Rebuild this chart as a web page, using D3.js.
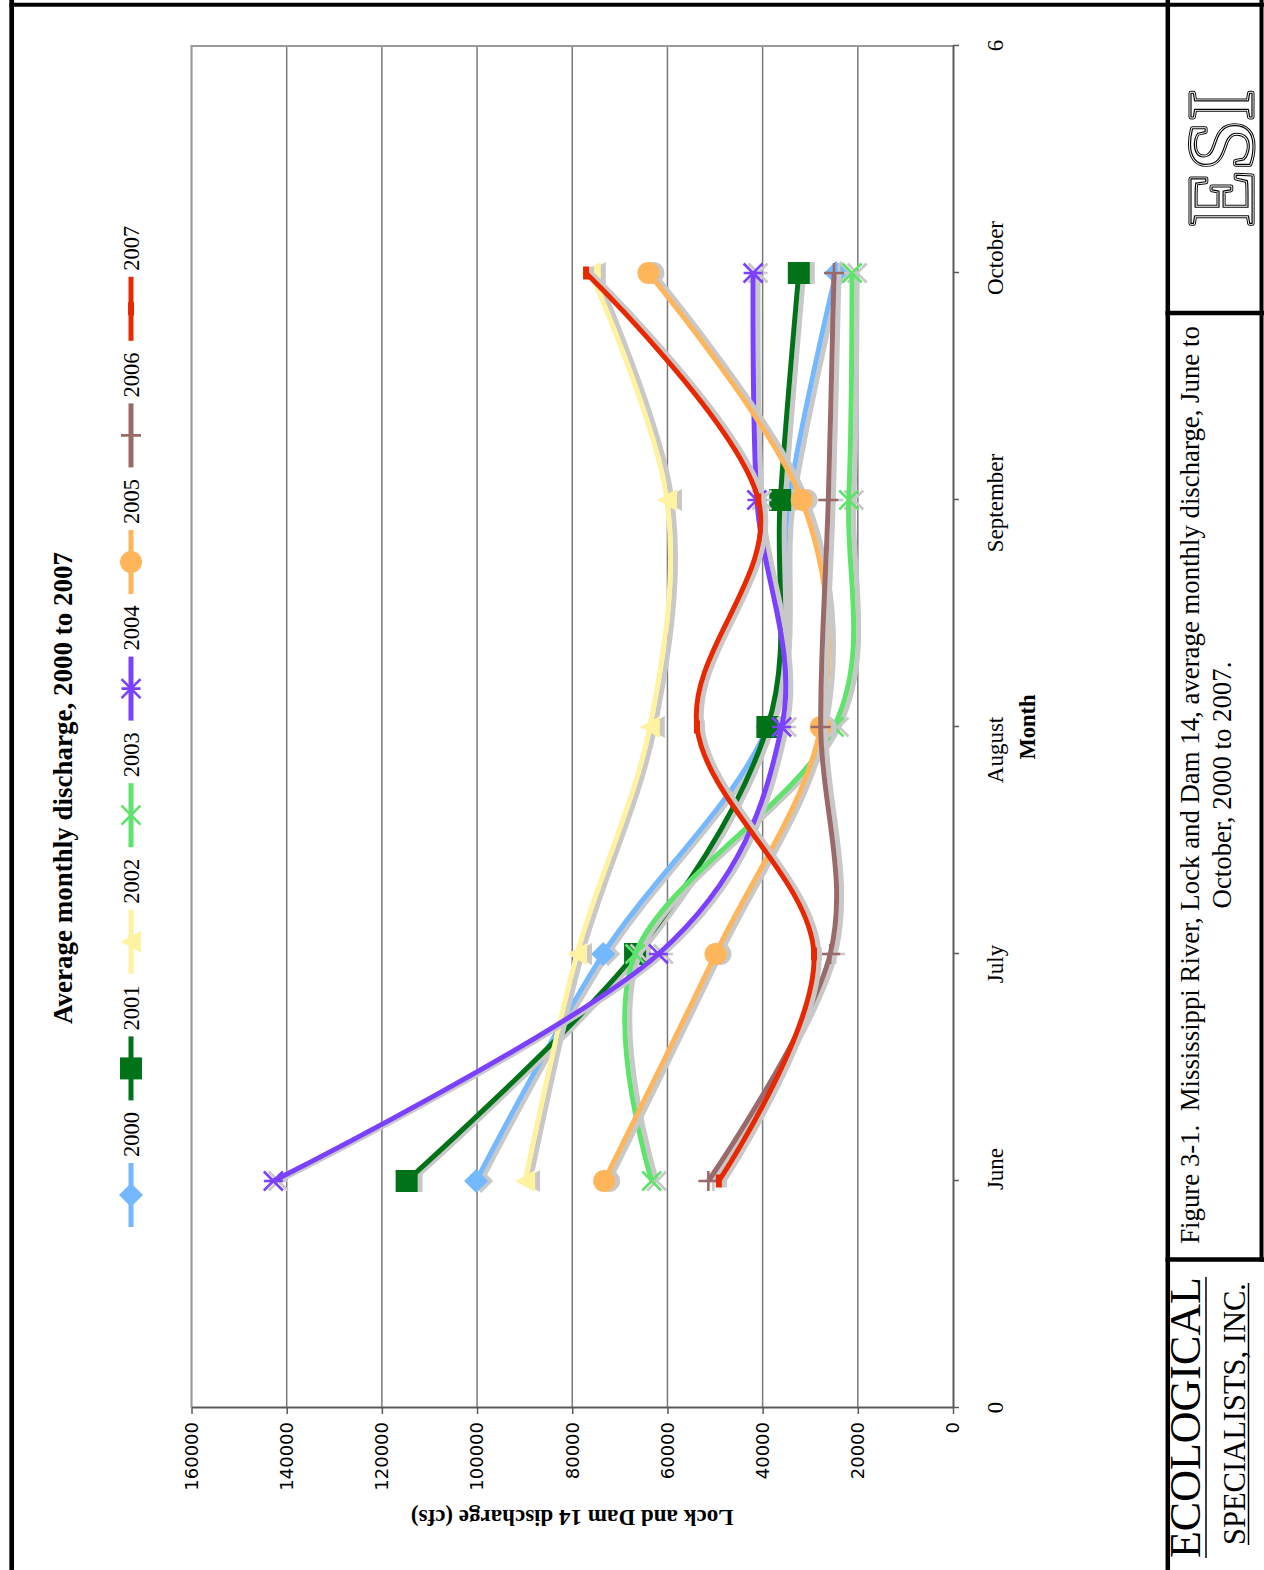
<!DOCTYPE html>
<html lang="en">
<head>
<meta charset="UTF-8">
<title>Average monthly discharge, 2000 to 2007</title>
<style>
    body { margin: 0; background: #ffffff; }
    svg { display: block; }
    .serif { font-family: "Liberation Serif", "Times New Roman", serif; fill: #000; }
    .axis .domain { stroke: #5a5a5a; stroke-width: 2; }
    .axis .tick line { stroke: #5a5a5a; stroke-width: 1.5; }
    .y.axis text { font-family: "DejaVu Sans", Verdana, sans-serif; font-size: 18px; fill: #000; }
    .x.axis text { font-family: "Liberation Serif", "Times New Roman", serif; font-size: 23px; fill: #000; }
</style>
<script src="https://d3js.org/d3.v7.min.js"></script>
</head>
<body>
<div id="chart"></div>
<script>
    // months on the category axis (drawn at positions 1..5 of a 0..6 axis)
    var months = ["June", "July", "August", "September", "October"];
    var monthPos = [1, 2, 3, 4, 5];
    var xTicks = [0, 1, 2, 3, 4, 5, 6];
    var yTicks = [0, 20000, 40000, 60000, 80000, 100000, 120000, 140000, 160000];

    var years = ["2000", "2001", "2002", "2003", "2004", "2005", "2006", "2007"];
    // average monthly discharge (cfs), June..October
    var flow2000 = [100200, 73500, 39000, 34500, 24600];
    var flow2001 = [114800, 66800, 39000, 36300, 32400];
    var flow2002 = [89900, 79000, 63700, 60100, 76100];
    var flow2003 = [63300, 66800, 25000, 21900, 21200];
    var flow2004 = [142800, 61900, 36000, 41200, 42000];
    var flow2005 = [73300, 49900, 27800, 31800, 64000];
    var flow2006 = [51400, 25800, 27800, 26200, 25000];
    var flow2007 = [49200, 29200, 53800, 40900, 77100];

    var seriesColors = ["#74b8ff", "#007318", "#fff2a0", "#5fe36c", "#7c40ff", "#ffb55a", "#9a6a6a", "#e82800"];
    var seriesMarkers = ["diamond", "square", "triangle", "x", "star", "circle", "plus", "dash"];
    // the month labels were placed by hand, slightly off their ticks
    var monthNudge = [12, -10, -23, -3, 15];

    var allFlows = [flow2000, flow2001, flow2002, flow2003, flow2004, flow2005, flow2006, flow2007];
    var series = years.map(function (yr, i) {
        return {
            year: yr,
            color: seriesColors[i],
            marker: seriesMarkers[i],
            values: allFlows[i].map(function (q, j) { return {m: monthPos[j], q: q}; })
        };
    });

    var W = 1264, H = 1570;
    var shadowColor = "#c8c8c8";

    var svg = d3.select("#chart").append("svg")
        .attr("width", W)
        .attr("height", H);
    svg.append("rect").attr("width", W).attr("height", H).attr("fill", "#fff");

    // the whole landscape page is turned a quarter turn counter-clockwise
    var g = svg.append("g").attr("transform", "translate(0," + H + ") rotate(-90)");

    var x = d3.scaleLinear().domain([0, 6]).range([162, 1524]);
    var y = d3.scaleLinear().domain([0, 160000]).range([953, 191.5]);

    // marker shapes, in the un-rotated chart frame
    function markerPath(type) {
        var p = d3.path(), r;
        switch (type) {
            case "diamond":
                r = 12;
                p.moveTo(0, -r); p.lineTo(r, 0); p.lineTo(0, r); p.lineTo(-r, 0); p.closePath();
                break;
            case "square":
                p.rect(-11, -11, 22, 22);
                break;
            case "triangle":
                p.moveTo(0, -10); p.lineTo(11, 10); p.lineTo(-11, 10); p.closePath();
                break;
            case "circle":
                p.arc(0, 0, 11, 0, 2 * Math.PI);
                break;
            case "x":
                r = 9.5;
                p.moveTo(-r, -r); p.lineTo(r, r); p.moveTo(-r, r); p.lineTo(r, -r);
                break;
            case "star":
                r = 9.5;
                p.moveTo(-r, -r); p.lineTo(r, r); p.moveTo(-r, r); p.lineTo(r, -r);
                p.moveTo(0, -r); p.lineTo(0, r);
                break;
            case "plus":
                r = 10;
                p.moveTo(-r, 0); p.lineTo(r, 0); p.moveTo(0, -r); p.lineTo(0, r);
                break;
            case "dash":
                p.rect(-6.5, -3, 13, 6);
                break;
        }
        return p.toString();
    }
    function isStroked(type) { return type === "x" || type === "star" || type === "plus"; }
    function styleMarker(sel, type, color) {
        if (isStroked(type)) {
            sel.attr("fill", "none").attr("stroke", color).attr("stroke-width", 2.6);
        } else {
            sel.attr("fill", color).attr("stroke", "none");
        }
    }

    // gridlines
    g.append("g").attr("class", "grid")
        .selectAll("line")
        .data(yTicks.filter(function (t) { return t > 0 && t < 160000; }))
        .enter().append("line")
        .attr("x1", x(0)).attr("x2", x(6))
        .attr("y1", function (d) { return y(d); })
        .attr("y2", function (d) { return y(d); })
        .attr("stroke", "#7a7a7a")
        .attr("stroke-width", 1.5);

    // plot area frame (top and right in the chart's own frame)
    g.append("path")
        .attr("d", "M" + x(0) + "," + y(160000) + "H" + x(6) + "V" + y(0))
        .attr("fill", "none")
        .attr("stroke", "#9a9a9a")
        .attr("stroke-width", 2.2);

    // axes
    g.append("g")
        .attr("class", "x axis")
        .attr("transform", "translate(0," + y(0) + ")")
        .call(d3.axisBottom(x).tickValues(xTicks).tickSize(6).tickSizeOuter(0).tickPadding(28)
            .tickFormat(function (d) { return (d === 0 || d === 6) ? d : ""; }));

    g.append("g")
        .attr("class", "y axis")
        .attr("transform", "translate(" + x(0) + ",0)")
        .call(d3.axisLeft(y).tickValues(yTicks).tickSize(6).tickSizeOuter(0).tickPadding(8)
            .tickFormat(d3.format("d")));

    g.selectAll(".month")
        .data(months)
        .enter().append("text")
        .attr("class", "month serif")
        .attr("x", function (d, i) { return x(monthPos[i]) + monthNudge[i]; })
        .attr("y", y(0) + 34)
        .attr("dy", "0.71em")
        .attr("text-anchor", "middle")
        .style("font-size", "23px")
        .text(function (d) { return d; });

    g.append("text")
        .attr("class", "serif")
        .attr("x", x(3))
        .attr("y", 1035)
        .attr("text-anchor", "middle")
        .style("font-size", "22.5px")
        .style("font-weight", "bold")
        .text("Month");

    g.append("text")
        .attr("class", "serif")
        .attr("transform", "translate(60," + ((y(0) + y(160000)) / 2) + ") rotate(-90)")
        .attr("text-anchor", "middle")
        .style("font-size", "23px")
        .style("font-weight", "bold")
        .text("Lock and Dam 14 discharge (cfs)");

    g.append("text")
        .attr("class", "serif")
        .attr("x", 782)
        .attr("y", 72)
        .attr("text-anchor", "middle")
        .style("font-size", "27px")
        .style("font-weight", "bold")
        .text("Average monthly discharge, 2000 to 2007");

    // series: shadow first, then the coloured line and markers
    var line = d3.line()
        .x(function (d) { return x(d.m); })
        .y(function (d) { return y(d.q); })
        .curve(d3.curveCardinal.tension(0));

    function drawMarkers(parent, s, color) {
        parent.selectAll("path")
            .data(s.values)
            .enter().append("path")
            .attr("d", markerPath(s.marker))
            .attr("transform", function (d) { return "translate(" + x(d.m) + "," + y(d.q) + ")"; })
            .call(styleMarker, s.marker, color);
    }

    var plot = g.append("g").attr("class", "series");
    series.forEach(function (s) {
        var sg = plot.append("g");
        var shadow = sg.append("g").attr("transform", "translate(0,5)");
        shadow.append("path")
            .attr("d", line(s.values))
            .attr("fill", "none")
            .attr("stroke", shadowColor)
            .attr("stroke-width", 5);
        drawMarkers(shadow.append("g"), s, shadowColor);

        sg.append("path")
            .attr("d", line(s.values))
            .attr("fill", "none")
            .attr("stroke", s.color)
            .attr("stroke-width", 5)
            .attr("stroke-linejoin", "round");
        drawMarkers(sg.append("g"), s, s.color);
    });

    // legend across the top of the chart
    var legend = g.append("g").attr("class", "legend");
    var legItem = legend.selectAll("g")
        .data(series)
        .enter().append("g")
        .attr("transform", function (d, i) { return "translate(" + (343 + 126.6 * i) + ",131)"; });
    legItem.append("line")
        .attr("x1", 0).attr("x2", 64)
        .attr("stroke", function (d) { return d.color; })
        .attr("stroke-width", 5);
    legItem.append("path")
        .attr("d", function (d) { return markerPath(d.marker); })
        .attr("transform", "translate(32,0)")
        .each(function (d) { d3.select(this).call(styleMarker, d.marker, d.color); });
    legItem.append("text")
        .attr("class", "serif")
        .attr("x", 70)
        .attr("dy", "0.35em")
        .style("font-size", "22.5px")
        .text(function (d) { return d.year; });

    // caption block
    g.append("text")
        .attr("class", "serif")
        .attr("x", 785).attr("y", 1199)
        .attr("text-anchor", "middle")
        .attr("xml:space", "preserve")
        .style("font-size", "26.8px")
        .text("Figure 3-1.  Mississippi River, Lock and Dam 14, average monthly discharge, June to");
    g.append("text")
        .attr("class", "serif")
        .attr("x", 785).attr("y", 1231)
        .attr("text-anchor", "middle")
        .style("font-size", "26.8px")
        .text("October, 2000 to 2007.");

    // ESI outline logo
    [{w: 5, c: "#000", f: "none"}, {w: 3, c: "#fff", f: "none"}, {w: 1.2, c: "#000", f: "#fff"}].forEach(function (l) {
        g.append("text")
            .attr("class", "serif")
            .attr("x", 1412).attr("y", 1252)
            .attr("text-anchor", "middle")
            .attr("textLength", 136)
            .attr("lengthAdjust", "spacingAndGlyphs")
            .style("font-size", "94px")
            .style("fill", l.f)
            .style("stroke", l.c)
            .style("stroke-width", l.w)
            .style("stroke-linejoin", "round")
            .text("ESI");
    });

    g.append("text")
        .attr("class", "serif")
        .attr("x", 12).attr("y", 1200)
        .attr("textLength", 281)
        .attr("lengthAdjust", "spacingAndGlyphs")
        .style("font-size", "44px")
        .text("ECOLOGICAL");
    g.append("line")
        .attr("x1", 12).attr("x2", 293)
        .attr("y1", 1206).attr("y2", 1206)
        .attr("stroke", "#000").attr("stroke-width", 1.5);
    g.append("text")
        .attr("class", "serif")
        .attr("x", 25).attr("y", 1245)
        .attr("textLength", 262)
        .attr("lengthAdjust", "spacingAndGlyphs")
        .style("font-size", "32px")
        .text("SPECIALISTS, INC.");
    g.append("line")
        .attr("x1", 25).attr("x2", 287)
        .attr("y1", 1248.5).attr("y2", 1248.5)
        .attr("stroke", "#000").attr("stroke-width", 1.5);

    // page frame
    var frame = svg.append("g").attr("stroke", "#000");
    frame.append("line").attr("x1", 11.7).attr("x2", 11.7).attr("y1", 0).attr("y2", H).attr("stroke-width", 4.7);
    frame.append("line").attr("x1", 9.5).attr("x2", W).attr("y1", 4.7).attr("y2", 4.7).attr("stroke-width", 4);
    frame.append("line").attr("x1", 1167.8).attr("x2", 1167.8).attr("y1", 0).attr("y2", H).attr("stroke-width", 4.5);
    frame.append("line").attr("x1", 1261.5).attr("x2", 1261.5).attr("y1", 0).attr("y2", 1262).attr("stroke-width", 4);
    frame.append("line").attr("x1", 1165.5).attr("x2", W).attr("y1", 313).attr("y2", 313).attr("stroke-width", 4.5);
    frame.append("line").attr("x1", 1165.5).attr("x2", W).attr("y1", 1259.5).attr("y2", 1259.5).attr("stroke-width", 4.5);
</script>
</body>
</html>
